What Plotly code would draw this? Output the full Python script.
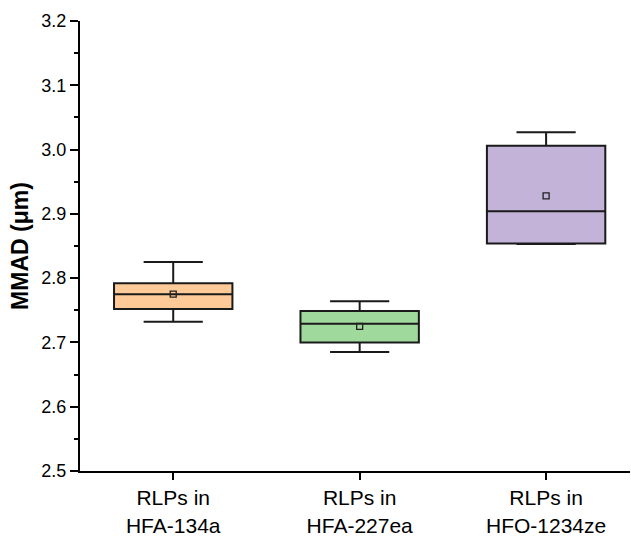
import plotly.graph_objects as go

# Box statistics for each propellant (MMAD in µm)
categories = ["RLPs in<br>HFA-134a", "RLPs in<br>HFA-227ea", "RLPs in<br>HFO-1234ze"]
lower_whisker = [2.732, 2.685, 2.853]
q1 = [2.752, 2.700, 2.854]
median = [2.775, 2.729, 2.904]
q3 = [2.792, 2.749, 3.006]
upper_whisker = [2.825, 2.764, 3.027]
mean = [2.775, 2.725, 2.928]
fills = ["#FDCA98", "#A0D99C", "#C3B3D8"]

font_family = "Arial, Liberation Sans, sans-serif"

fig = go.Figure()
for i, cat in enumerate(categories):
    fig.add_trace(go.Box(
        x=[cat],
        q1=[q1[i]], median=[median[i]], q3=[q3[i]],
        lowerfence=[lower_whisker[i]], upperfence=[upper_whisker[i]],
        fillcolor=fills[i],
        line=dict(color="#1a1a1a", width=2),
        width=0.635,
        whiskerwidth=0.5,
        boxpoints=False,
        showlegend=False,
        hoverinfo="skip",
    ))

# Mean markers
fig.add_trace(go.Scatter(
    x=categories, y=mean, mode="markers",
    marker=dict(symbol="square-open", size=6, color="#222222", line=dict(width=1.3)),
    showlegend=False, hoverinfo="skip",
))

fig.update_layout(
    width=631, height=538,
    margin=dict(l=80, r=1, t=21, b=67),
    paper_bgcolor="white", plot_bgcolor="white",
    font=dict(family=font_family, color="black"),
)

fig.update_xaxes(
    type="category",
    categoryorder="array", categoryarray=categories,
    range=[-0.5, 2.45],
    automargin=False,
    showline=True, linecolor="black", linewidth=2,
    ticks="outside", ticklen=7, tickwidth=1.5, tickcolor="black",
    tickfont=dict(size=21, family=font_family),
    showgrid=False, zeroline=False,
)

fig.update_yaxes(
    range=[2.5, 3.2],
    dtick=0.1, tick0=2.5, tickformat=".1f",
    automargin=False,
    showline=True, linecolor="black", linewidth=2,
    ticks="outside", ticklen=8, tickwidth=1.5, tickcolor="black",
    minor=dict(dtick=0.05, ticks="outside", ticklen=4, tickwidth=1.5, tickcolor="black", showgrid=False),
    tickfont=dict(size=18, family=font_family),
    showgrid=False, zeroline=False,
    title=dict(text="<b>MMAD (μm)</b>", font=dict(size=23, family=font_family), standoff=6),
)

fig.write_html("out.html")
